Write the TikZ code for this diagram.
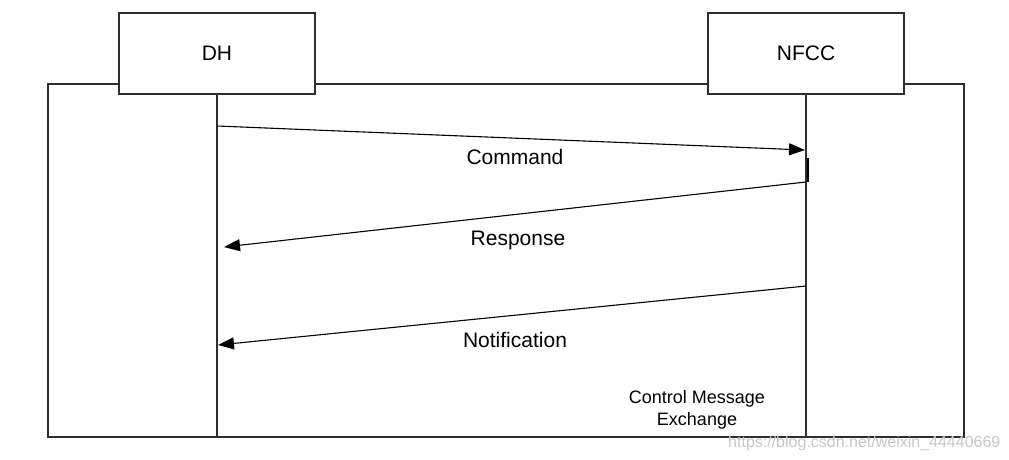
\documentclass[tikz,border=0pt]{standalone}
\usepackage{fontspec}
\setmainfont{Liberation Sans}
\usetikzlibrary{arrows.meta}
\begin{document}
\begin{tikzpicture}[x=1pt,y=-1pt,
  ln/.style={draw=black!82,line width=1.2pt},
  actor/.style={ln,fill=white,minimum width=196pt,minimum height=81pt,inner sep=0pt,font=\fontsize{21}{24}\selectfont},
  msg/.style={draw=black,line width=1.1pt,-{Triangle[length=16pt,width=12pt]}},
  lbl/.style={font=\fontsize{21}{24}\selectfont,inner sep=0pt}]
\useasboundingbox (0,0) rectangle (1009,459);
\node[ln,minimum width=916pt,minimum height=353pt,inner sep=0pt] (frame) at (506,260.5) {};
\node[actor] (dh) at (217,53.5) {DH};
\node[actor] (nfcc) at (806,53.5) {NFCC};
\coordinate (dhend) at (217,437);
\coordinate (nfccend) at (806,437);
\draw[ln] (dh.south) -- (dhend);
\draw[ln] (nfcc.south) -- (nfccend);
\coordinate (c1) at (217,126);
\coordinate (c2) at (805,150);
\coordinate (r1) at (806,182);
\coordinate (r2) at (224,247);
\coordinate (n1) at (806,286);
\coordinate (n2) at (218,345);
\coordinate (a1) at (807.5,158);
\coordinate (a2) at (807.5,182);
\draw[msg] (c1) -- (c2);
\draw[msg] (r1) -- (r2);
\draw[msg] (n1) -- (n2);
\draw[draw=black,line width=2pt] (a1) -- (a2);
\node[lbl] (lc) at (515,156.5) {Command};
\node[lbl] (lr) at (518,240) {Response};
\node[lbl] (ln) at (515,340) {Notification};
\node[font=\fontsize{18}{22}\selectfont,align=center,inner sep=0pt] (cme) at (697,409.5) {Control Message\\Exchange};
\node[font=\fontsize{16}{18}\selectfont,text=black!22,anchor=west,inner sep=0pt] (wm) at (728,443) {https://blog.csdn.net/weixin\_44440669};
\end{tikzpicture}
\end{document}
